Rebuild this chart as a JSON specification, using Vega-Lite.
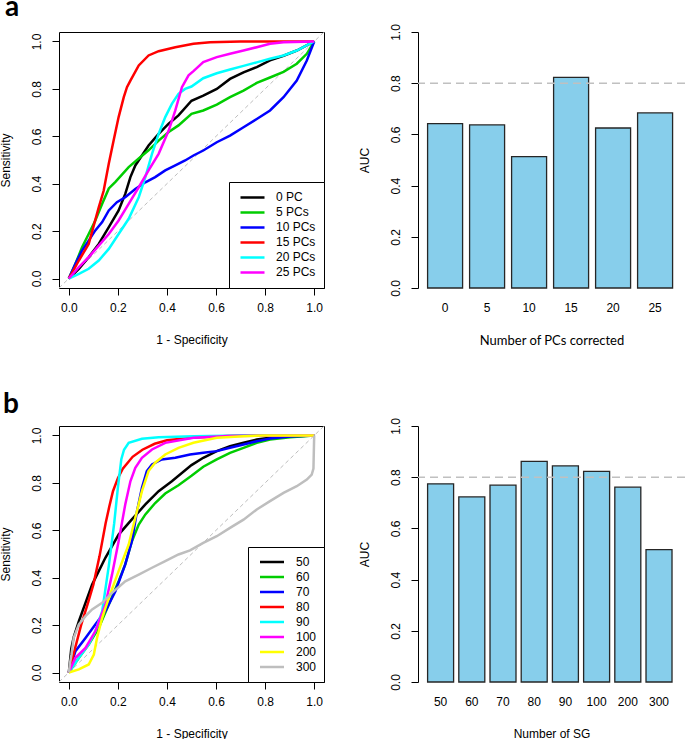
{
  "$schema": "https://vega.github.io/schema/vega-lite/v6.json",
  "background": "white",
  "padding": {"left": -1, "top": -6, "right": 0, "bottom": 0},
  "config": {
    "view": {"stroke": null},
    "font": "Liberation Sans",
    "axis": {
      "labelFont": "Liberation Sans", "labelFontSize": 12, "labelColor": "black",
      "titleFont": "Liberation Sans", "titleFontSize": 12, "titleFontWeight": "normal", "titleColor": "black",
      "tickColor": "black", "domainColor": "black", "tickSize": 7, "grid": false
    }
  },
  "datasets": {
    "rocA": [
      {"g":"0 PC","x":0,"y":0},{"g":"0 PC","x":0.041,"y":0.041},{"g":"0 PC","x":0.081,"y":0.09},{"g":"0 PC","x":0.122,"y":0.146},{"g":"0 PC","x":0.163,"y":0.217},{"g":"0 PC","x":0.203,"y":0.287},{"g":"0 PC","x":0.23,"y":0.357},{"g":"0 PC","x":0.251,"y":0.428},{"g":"0 PC","x":0.271,"y":0.477},{"g":"0 PC","x":0.298,"y":0.519},{"g":"0 PC","x":0.325,"y":0.561},{"g":"0 PC","x":0.366,"y":0.61},{"g":"0 PC","x":0.407,"y":0.653},{"g":"0 PC","x":0.447,"y":0.688},{"g":"0 PC","x":0.5,"y":0.75},{"g":"0 PC","x":0.548,"y":0.772},{"g":"0 PC","x":0.603,"y":0.8},{"g":"0 PC","x":0.657,"y":0.842},{"g":"0 PC","x":0.712,"y":0.87},{"g":"0 PC","x":0.766,"y":0.892},{"g":"0 PC","x":0.82,"y":0.92},{"g":"0 PC","x":0.875,"y":0.94},{"g":"0 PC","x":0.929,"y":0.962},{"g":"0 PC","x":1,"y":1},
      {"g":"5 PCs","x":0,"y":0},{"g":"5 PCs","x":0.027,"y":0.062},{"g":"5 PCs","x":0.054,"y":0.132},{"g":"5 PCs","x":0.081,"y":0.188},{"g":"5 PCs","x":0.108,"y":0.245},{"g":"5 PCs","x":0.136,"y":0.315},{"g":"5 PCs","x":0.163,"y":0.38},{"g":"5 PCs","x":0.19,"y":0.408},{"g":"5 PCs","x":0.244,"y":0.47},{"g":"5 PCs","x":0.285,"y":0.506},{"g":"5 PCs","x":0.325,"y":0.541},{"g":"5 PCs","x":0.366,"y":0.582},{"g":"5 PCs","x":0.407,"y":0.618},{"g":"5 PCs","x":0.447,"y":0.646},{"g":"5 PCs","x":0.5,"y":0.695},{"g":"5 PCs","x":0.548,"y":0.709},{"g":"5 PCs","x":0.603,"y":0.734},{"g":"5 PCs","x":0.657,"y":0.765},{"g":"5 PCs","x":0.712,"y":0.793},{"g":"5 PCs","x":0.766,"y":0.825},{"g":"5 PCs","x":0.82,"y":0.848},{"g":"5 PCs","x":0.875,"y":0.872},{"g":"5 PCs","x":0.929,"y":0.906},{"g":"5 PCs","x":0.97,"y":0.948},{"g":"5 PCs","x":1,"y":1},
      {"g":"10 PCs","x":0,"y":0},{"g":"10 PCs","x":0.027,"y":0.062},{"g":"10 PCs","x":0.054,"y":0.118},{"g":"10 PCs","x":0.081,"y":0.16},{"g":"10 PCs","x":0.108,"y":0.203},{"g":"10 PCs","x":0.136,"y":0.238},{"g":"10 PCs","x":0.163,"y":0.287},{"g":"10 PCs","x":0.196,"y":0.322},{"g":"10 PCs","x":0.23,"y":0.343},{"g":"10 PCs","x":0.271,"y":0.378},{"g":"10 PCs","x":0.312,"y":0.406},{"g":"10 PCs","x":0.352,"y":0.428},{"g":"10 PCs","x":0.393,"y":0.456},{"g":"10 PCs","x":0.434,"y":0.477},{"g":"10 PCs","x":0.474,"y":0.498},{"g":"10 PCs","x":0.508,"y":0.519},{"g":"10 PCs","x":0.548,"y":0.54},{"g":"10 PCs","x":0.603,"y":0.575},{"g":"10 PCs","x":0.657,"y":0.603},{"g":"10 PCs","x":0.712,"y":0.638},{"g":"10 PCs","x":0.766,"y":0.673},{"g":"10 PCs","x":0.82,"y":0.709},{"g":"10 PCs","x":0.875,"y":0.765},{"g":"10 PCs","x":0.929,"y":0.835},{"g":"10 PCs","x":0.97,"y":0.92},{"g":"10 PCs","x":1,"y":1},
      {"g":"15 PCs","x":0,"y":0},{"g":"15 PCs","x":0.041,"y":0.076},{"g":"15 PCs","x":0.081,"y":0.146},{"g":"15 PCs","x":0.122,"y":0.3},{"g":"15 PCs","x":0.142,"y":0.37},{"g":"15 PCs","x":0.163,"y":0.485},{"g":"15 PCs","x":0.183,"y":0.584},{"g":"15 PCs","x":0.203,"y":0.681},{"g":"15 PCs","x":0.224,"y":0.765},{"g":"15 PCs","x":0.237,"y":0.807},{"g":"15 PCs","x":0.251,"y":0.835},{"g":"15 PCs","x":0.285,"y":0.899},{"g":"15 PCs","x":0.325,"y":0.941},{"g":"15 PCs","x":0.366,"y":0.959},{"g":"15 PCs","x":0.434,"y":0.976},{"g":"15 PCs","x":0.508,"y":0.99},{"g":"15 PCs","x":0.576,"y":0.997},{"g":"15 PCs","x":0.7,"y":1},{"g":"15 PCs","x":1,"y":1},
      {"g":"20 PCs","x":0,"y":0},{"g":"20 PCs","x":0.041,"y":0.02},{"g":"20 PCs","x":0.081,"y":0.041},{"g":"20 PCs","x":0.122,"y":0.076},{"g":"20 PCs","x":0.163,"y":0.125},{"g":"20 PCs","x":0.203,"y":0.188},{"g":"20 PCs","x":0.244,"y":0.252},{"g":"20 PCs","x":0.285,"y":0.343},{"g":"20 PCs","x":0.312,"y":0.428},{"g":"20 PCs","x":0.339,"y":0.526},{"g":"20 PCs","x":0.366,"y":0.61},{"g":"20 PCs","x":0.393,"y":0.681},{"g":"20 PCs","x":0.42,"y":0.737},{"g":"20 PCs","x":0.447,"y":0.779},{"g":"20 PCs","x":0.474,"y":0.8},{"g":"20 PCs","x":0.5,"y":0.81},{"g":"20 PCs","x":0.548,"y":0.845},{"g":"20 PCs","x":0.603,"y":0.866},{"g":"20 PCs","x":0.657,"y":0.882},{"g":"20 PCs","x":0.712,"y":0.897},{"g":"20 PCs","x":0.766,"y":0.912},{"g":"20 PCs","x":0.82,"y":0.927},{"g":"20 PCs","x":0.875,"y":0.941},{"g":"20 PCs","x":0.929,"y":0.962},{"g":"20 PCs","x":1,"y":1},
      {"g":"25 PCs","x":0,"y":0},{"g":"25 PCs","x":0.041,"y":0.048},{"g":"25 PCs","x":0.081,"y":0.09},{"g":"25 PCs","x":0.122,"y":0.139},{"g":"25 PCs","x":0.163,"y":0.188},{"g":"25 PCs","x":0.203,"y":0.245},{"g":"25 PCs","x":0.244,"y":0.315},{"g":"25 PCs","x":0.285,"y":0.385},{"g":"25 PCs","x":0.325,"y":0.456},{"g":"25 PCs","x":0.366,"y":0.526},{"g":"25 PCs","x":0.407,"y":0.624},{"g":"25 PCs","x":0.434,"y":0.709},{"g":"25 PCs","x":0.461,"y":0.807},{"g":"25 PCs","x":0.488,"y":0.857},{"g":"25 PCs","x":0.508,"y":0.875},{"g":"25 PCs","x":0.548,"y":0.913},{"g":"25 PCs","x":0.603,"y":0.934},{"g":"25 PCs","x":0.657,"y":0.948},{"g":"25 PCs","x":0.712,"y":0.962},{"g":"25 PCs","x":0.766,"y":0.976},{"g":"25 PCs","x":0.82,"y":0.99},{"g":"25 PCs","x":0.875,"y":0.997},{"g":"25 PCs","x":1,"y":1}
    ],
    "rocB": [
      {"g":"50","x":0,"y":0},{"g":"50","x":0.01,"y":0.1},{"g":"50","x":0.02,"y":0.15},{"g":"50","x":0.041,"y":0.217},{"g":"50","x":0.095,"y":0.371},{"g":"50","x":0.149,"y":0.484},{"g":"50","x":0.203,"y":0.582},{"g":"50","x":0.257,"y":0.646},{"g":"50","x":0.312,"y":0.709},{"g":"50","x":0.366,"y":0.765},{"g":"50","x":0.42,"y":0.807},{"g":"50","x":0.5,"y":0.875},{"g":"50","x":0.548,"y":0.906},{"g":"50","x":0.603,"y":0.934},{"g":"50","x":0.657,"y":0.955},{"g":"50","x":0.712,"y":0.969},{"g":"50","x":0.766,"y":0.983},{"g":"50","x":0.82,"y":0.99},{"g":"50","x":0.902,"y":0.997},{"g":"50","x":1,"y":1},
      {"g":"60","x":0,"y":0},{"g":"60","x":0.041,"y":0.062},{"g":"60","x":0.081,"y":0.118},{"g":"60","x":0.122,"y":0.188},{"g":"60","x":0.163,"y":0.287},{"g":"60","x":0.203,"y":0.385},{"g":"60","x":0.23,"y":0.456},{"g":"60","x":0.257,"y":0.554},{"g":"60","x":0.285,"y":0.624},{"g":"60","x":0.312,"y":0.667},{"g":"60","x":0.352,"y":0.715},{"g":"60","x":0.393,"y":0.755},{"g":"60","x":0.447,"y":0.79},{"g":"60","x":0.5,"y":0.83},{"g":"60","x":0.548,"y":0.868},{"g":"60","x":0.603,"y":0.899},{"g":"60","x":0.657,"y":0.927},{"g":"60","x":0.712,"y":0.948},{"g":"60","x":0.766,"y":0.969},{"g":"60","x":0.82,"y":0.983},{"g":"60","x":0.902,"y":0.993},{"g":"60","x":1,"y":1},
      {"g":"70","x":0,"y":0},{"g":"70","x":0.027,"y":0.09},{"g":"70","x":0.068,"y":0.146},{"g":"70","x":0.108,"y":0.203},{"g":"70","x":0.149,"y":0.259},{"g":"70","x":0.19,"y":0.343},{"g":"70","x":0.23,"y":0.456},{"g":"70","x":0.257,"y":0.554},{"g":"70","x":0.278,"y":0.681},{"g":"70","x":0.298,"y":0.779},{"g":"70","x":0.318,"y":0.85},{"g":"70","x":0.339,"y":0.878},{"g":"70","x":0.379,"y":0.899},{"g":"70","x":0.434,"y":0.906},{"g":"70","x":0.494,"y":0.92},{"g":"70","x":0.548,"y":0.927},{"g":"70","x":0.603,"y":0.934},{"g":"70","x":0.657,"y":0.948},{"g":"70","x":0.712,"y":0.962},{"g":"70","x":0.766,"y":0.976},{"g":"70","x":0.82,"y":0.987},{"g":"70","x":0.902,"y":0.996},{"g":"70","x":1,"y":1},
      {"g":"80","x":0,"y":0},{"g":"80","x":0.02,"y":0.08},{"g":"80","x":0.05,"y":0.2},{"g":"80","x":0.08,"y":0.3},{"g":"80","x":0.1,"y":0.37},{"g":"80","x":0.125,"y":0.49},{"g":"80","x":0.15,"y":0.63},{"g":"80","x":0.165,"y":0.7},{"g":"80","x":0.18,"y":0.765},{"g":"80","x":0.2,"y":0.82},{"g":"80","x":0.22,"y":0.86},{"g":"80","x":0.26,"y":0.91},{"g":"80","x":0.3,"y":0.94},{"g":"80","x":0.35,"y":0.965},{"g":"80","x":0.4,"y":0.98},{"g":"80","x":0.5,"y":0.99},{"g":"80","x":0.6,"y":0.996},{"g":"80","x":0.7,"y":1},{"g":"80","x":1,"y":1},
      {"g":"90","x":0,"y":0},{"g":"90","x":0.041,"y":0.062},{"g":"90","x":0.081,"y":0.118},{"g":"90","x":0.108,"y":0.174},{"g":"90","x":0.136,"y":0.259},{"g":"90","x":0.163,"y":0.45},{"g":"90","x":0.185,"y":0.63},{"g":"90","x":0.2,"y":0.78},{"g":"90","x":0.214,"y":0.9},{"g":"90","x":0.225,"y":0.94},{"g":"90","x":0.244,"y":0.969},{"g":"90","x":0.298,"y":0.986},{"g":"90","x":0.366,"y":0.993},{"g":"90","x":0.508,"y":0.997},{"g":"90","x":0.7,"y":1},{"g":"90","x":1,"y":1},
      {"g":"100","x":0,"y":0},{"g":"100","x":0.027,"y":0.062},{"g":"100","x":0.068,"y":0.104},{"g":"100","x":0.108,"y":0.174},{"g":"100","x":0.149,"y":0.287},{"g":"100","x":0.176,"y":0.413},{"g":"100","x":0.203,"y":0.554},{"g":"100","x":0.23,"y":0.709},{"g":"100","x":0.251,"y":0.807},{"g":"100","x":0.271,"y":0.864},{"g":"100","x":0.298,"y":0.906},{"g":"100","x":0.339,"y":0.941},{"g":"100","x":0.393,"y":0.969},{"g":"100","x":0.508,"y":0.99},{"g":"100","x":0.65,"y":0.998},{"g":"100","x":1,"y":1},
      {"g":"200","x":0,"y":0},{"g":"200","x":0.041,"y":0.013},{"g":"200","x":0.081,"y":0.034},{"g":"200","x":0.102,"y":0.076},{"g":"200","x":0.115,"y":0.146},{"g":"200","x":0.136,"y":0.231},{"g":"200","x":0.163,"y":0.315},{"g":"200","x":0.203,"y":0.428},{"g":"200","x":0.244,"y":0.54},{"g":"200","x":0.271,"y":0.653},{"g":"200","x":0.298,"y":0.765},{"g":"200","x":0.325,"y":0.85},{"g":"200","x":0.352,"y":0.885},{"g":"200","x":0.393,"y":0.92},{"g":"200","x":0.447,"y":0.948},{"g":"200","x":0.508,"y":0.969},{"g":"200","x":0.603,"y":0.99},{"g":"200","x":0.712,"y":0.997},{"g":"200","x":0.8,"y":1},{"g":"200","x":1,"y":1},
      {"g":"300","x":0,"y":0},{"g":"300","x":0.005,"y":0.04},{"g":"300","x":0.011,"y":0.076},{"g":"300","x":0.02,"y":0.146},{"g":"300","x":0.041,"y":0.203},{"g":"300","x":0.068,"y":0.238},{"g":"300","x":0.095,"y":0.266},{"g":"300","x":0.136,"y":0.294},{"g":"300","x":0.176,"y":0.336},{"g":"300","x":0.23,"y":0.385},{"g":"300","x":0.285,"y":0.413},{"g":"300","x":0.339,"y":0.442},{"g":"300","x":0.393,"y":0.47},{"g":"300","x":0.447,"y":0.498},{"g":"300","x":0.494,"y":0.515},{"g":"300","x":0.548,"y":0.547},{"g":"300","x":0.603,"y":0.575},{"g":"300","x":0.657,"y":0.61},{"g":"300","x":0.712,"y":0.645},{"g":"300","x":0.766,"y":0.688},{"g":"300","x":0.82,"y":0.723},{"g":"300","x":0.875,"y":0.758},{"g":"300","x":0.929,"y":0.786},{"g":"300","x":0.97,"y":0.814},{"g":"300","x":0.99,"y":0.835},{"g":"300","x":0.997,"y":0.86},{"g":"300","x":1,"y":1}
    ],
    "aucA": [
      {"k":"0","auc":0.642},{"k":"5","auc":0.637},{"k":"10","auc":0.513},{"k":"15","auc":0.823},{"k":"20","auc":0.625},{"k":"25","auc":0.684}
    ],
    "aucB": [
      {"k":"50","auc":0.774},{"k":"60","auc":0.723},{"k":"70","auc":0.769},{"k":"80","auc":0.862},{"k":"90","auc":0.844},{"k":"100","auc":0.823},{"k":"200","auc":0.761},{"k":"300","auc":0.517}
    ],
    "diag": [{"x":-0.04,"y":-0.04},{"x":1.04,"y":1.04}],
    "ref": [{"ref":0.8}]
  },
  "columns": 2,
  "spacing": {"row": 138, "column": 94},
  "bounds": "flush",
  "resolve": {"scale": {"x": "independent", "y": "independent", "color": "independent"}},
  "concat": [
    {
      "width": 265, "height": 256,
      "title": {"text": "a", "anchor": "start", "frame": "group", "font": "Lato", "fontSize": 28, "fontWeight": "bold", "color": "black", "baseline": "alphabetic", "offset": -14, "dx": -54},
      "resolve": {"axis": {"x": "independent", "y": "independent"}},
      "layer": [
        {
          "data": {"name": "diag"},
          "mark": {"type": "line", "color": "#bebebe", "strokeWidth": 1, "strokeDash": [4, 3]},
          "encoding": {
            "x": {"field": "x", "type": "quantitative", "scale": {"domain": [-0.04, 1.04], "nice": false, "zero": false},
              "axis": {"orient": "top", "title": null, "labels": false, "ticks": false, "domain": true, "grid": false}},
            "y": {"field": "y", "type": "quantitative", "scale": {"domain": [-0.04, 1.04], "nice": false, "zero": false},
              "axis": {"orient": "right", "title": null, "labels": false, "ticks": false, "domain": true, "grid": false}}
          }
        },
        {
          "data": {"name": "rocA"},
          "mark": {"type": "line", "strokeWidth": 2.5},
          "encoding": {
            "x": {"field": "x", "type": "quantitative", "axis": {"orient": "bottom", "title": "1 - Specificity", "values": [0, 0.2, 0.4, 0.6, 0.8, 1], "format": ".1f", "labelPadding": 7, "titlePadding": 21, "labelFlush": false}},
            "y": {"field": "y", "type": "quantitative", "axis": {"orient": "left", "title": "Sensitivity", "values": [0, 0.2, 0.4, 0.6, 0.8, 1], "format": ".1f", "labelAngle": 270, "labelAlign": "center", "labelBaseline": "alphabetic", "labelPadding": 12, "titlePadding": 18, "labelFlush": false}},
            "color": {"field": "g", "type": "nominal",
              "scale": {"domain": ["0 PC", "5 PCs", "10 PCs", "15 PCs", "20 PCs", "25 PCs"], "range": ["#000000", "#00CD00", "#0000FF", "#FF0000", "#00FFFF", "#FF00FF"]},
              "legend": {"orient": "bottom-right", "offset": 0, "title": null, "strokeColor": "black", "fillColor": "white", "padding": 8, "symbolType": "stroke", "symbolSize": 576, "symbolStrokeWidth": 2.5, "labelFontSize": 12, "labelFont": "Liberation Sans", "labelColor": "black", "clipHeight": 14.86, "rowPadding": 0, "symbolOffset": 2, "labelOffset": 10}
            }
          }
        }
      ]
    },
    {
      "width": 267, "height": 256,
      "layer": [
        {
          "data": {"name": "aucA"},
          "mark": {"type": "bar", "fill": "#87CEEB", "stroke": "#262626", "strokeWidth": 1.3},
          "encoding": {
            "x": {"field": "k", "type": "ordinal", "sort": ["0", "5", "10", "15", "20", "25"],
              "scale": {"paddingInner": 0.1667, "paddingOuter": 0.262, "align": 0.436},
              "axis": {"title": "Number of PCs corrected", "titleFont": "Lato", "titleFontSize": 13, "labelAngle": 0, "domain": false, "ticks": true, "tickOpacity": 0, "labelPadding": 7, "titlePadding": 21}},
            "y": {"field": "auc", "type": "quantitative", "scale": {"domain": [0, 1], "nice": false},
              "axis": {"title": "AUC", "values": [0, 0.2, 0.4, 0.6, 0.8, 1], "format": ".1f", "labelAngle": 270, "labelAlign": "center", "labelBaseline": "alphabetic", "labelPadding": 12, "titlePadding": 18, "labelFlush": false}}
          }
        },
        {
          "data": {"name": "ref"},
          "mark": {"type": "rule", "color": "#c0c0c0", "strokeWidth": 1.5, "strokeDash": [8, 5]},
          "encoding": {"y": {"field": "ref", "type": "quantitative"}}
        }
      ]
    },
    {
      "width": 265, "height": 256,
      "title": {"text": "b", "anchor": "start", "frame": "group", "font": "Lato", "fontSize": 28, "fontWeight": "bold", "color": "black", "baseline": "alphabetic", "offset": -17, "dx": -56},
      "resolve": {"axis": {"x": "independent", "y": "independent"}},
      "layer": [
        {
          "data": {"name": "diag"},
          "mark": {"type": "line", "color": "#bebebe", "strokeWidth": 1, "strokeDash": [4, 3]},
          "encoding": {
            "x": {"field": "x", "type": "quantitative", "scale": {"domain": [-0.04, 1.04], "nice": false, "zero": false},
              "axis": {"orient": "top", "title": null, "labels": false, "ticks": false, "domain": true, "grid": false}},
            "y": {"field": "y", "type": "quantitative", "scale": {"domain": [-0.04, 1.04], "nice": false, "zero": false},
              "axis": {"orient": "right", "title": null, "labels": false, "ticks": false, "domain": true, "grid": false}}
          }
        },
        {
          "data": {"name": "rocB"},
          "mark": {"type": "line", "strokeWidth": 2.5},
          "encoding": {
            "x": {"field": "x", "type": "quantitative", "axis": {"orient": "bottom", "title": "1 - Specificity", "values": [0, 0.2, 0.4, 0.6, 0.8, 1], "format": ".1f", "labelPadding": 7, "titlePadding": 21, "labelFlush": false}},
            "y": {"field": "y", "type": "quantitative", "axis": {"orient": "left", "title": "Sensitivity", "values": [0, 0.2, 0.4, 0.6, 0.8, 1], "format": ".1f", "labelAngle": 270, "labelAlign": "center", "labelBaseline": "alphabetic", "labelPadding": 12, "titlePadding": 18, "labelFlush": false}},
            "color": {"field": "g", "type": "nominal",
              "scale": {"domain": ["50", "60", "70", "80", "90", "100", "200", "300"], "range": ["#000000", "#00CD00", "#0000FF", "#FF0000", "#00FFFF", "#FF00FF", "#FFFF00", "#BEBEBE"]},
              "legend": {"orient": "bottom-right", "offset": 0, "title": null, "strokeColor": "black", "fillColor": "white", "padding": 7.5, "symbolType": "stroke", "symbolSize": 576, "symbolStrokeWidth": 2.5, "labelFontSize": 12, "labelFont": "Liberation Sans", "labelColor": "black", "clipHeight": 15, "rowPadding": 0, "symbolOffset": 3, "labelOffset": 10.5}
            }
          }
        }
      ]
    },
    {
      "width": 267, "height": 256,
      "layer": [
        {
          "data": {"name": "aucB"},
          "mark": {"type": "bar", "fill": "#87CEEB", "stroke": "#262626", "strokeWidth": 1.3},
          "encoding": {
            "x": {"field": "k", "type": "ordinal", "sort": ["50", "60", "70", "80", "90", "100", "200", "300"],
              "scale": {"paddingInner": 0.1667, "paddingOuter": 0.362, "align": 0.425},
              "axis": {"title": "Number of SG", "labelAngle": 0, "domain": false, "ticks": true, "tickOpacity": 0, "labelPadding": 7, "titlePadding": 21}},
            "y": {"field": "auc", "type": "quantitative", "scale": {"domain": [0, 1], "nice": false},
              "axis": {"title": "AUC", "values": [0, 0.2, 0.4, 0.6, 0.8, 1], "format": ".1f", "labelAngle": 270, "labelAlign": "center", "labelBaseline": "alphabetic", "labelPadding": 12, "titlePadding": 18, "labelFlush": false}}
          }
        },
        {
          "data": {"name": "ref"},
          "mark": {"type": "rule", "color": "#c0c0c0", "strokeWidth": 1.5, "strokeDash": [8, 5]},
          "encoding": {"y": {"field": "ref", "type": "quantitative"}}
        }
      ]
    }
  ]
}
